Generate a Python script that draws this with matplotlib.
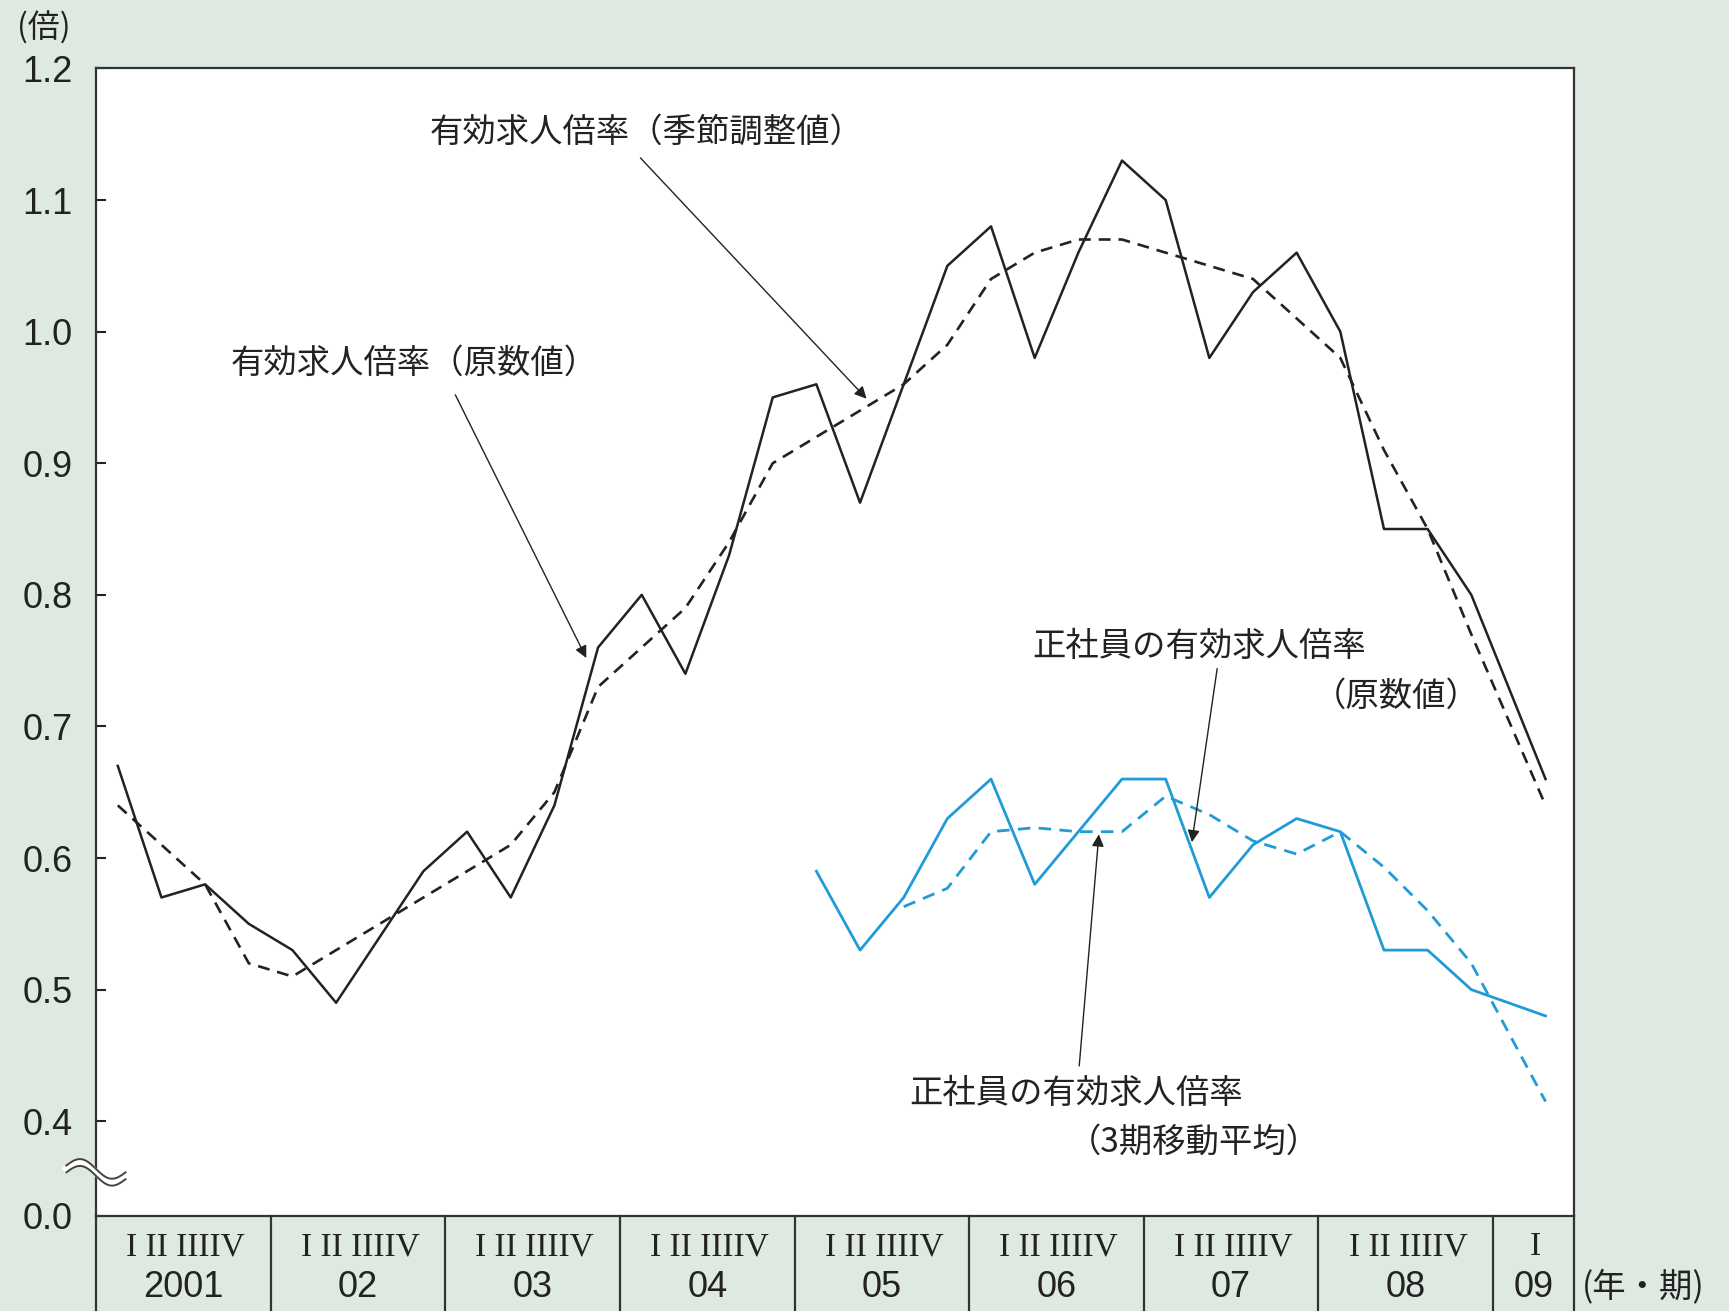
import numpy as np
import matplotlib
matplotlib.use('Agg')
import matplotlib.pyplot as plt

# Quarter positions: 2001 I = 0 ... 2008 IV = 31; 2009 I sits a bit further right, as in the original
quarter_pos = list(range(32)) + [32.7]

# 有効求人倍率（原数値）
ratio_raw = [0.67, 0.57, 0.58, 0.55, 0.53, 0.49, 0.54, 0.59,
             0.62, 0.57, 0.64, 0.76, 0.80, 0.74, 0.83, 0.95,
             0.96, 0.87, 0.96, 1.05, 1.08, 0.98, 1.06, 1.13,
             1.10, 0.98, 1.03, 1.06, 1.00, 0.85, 0.85, 0.80,
             0.66]
# 有効求人倍率（季節調整値）
ratio_sa = [0.64, 0.61, 0.58, 0.52, 0.51, 0.53, 0.55, 0.57,
            0.59, 0.61, 0.65, 0.73, 0.76, 0.79, 0.84, 0.90,
            0.92, 0.94, 0.96, 0.99, 1.04, 1.06, 1.07, 1.07,
            1.06, 1.05, 1.04, 1.01, 0.98, 0.91, 0.85, 0.77,
            0.64]
# 正社員の有効求人倍率（原数値）, from 2005 I
regular_raw = [0.59, 0.53, 0.57, 0.63, 0.66, 0.58, 0.62, 0.66,
               0.66, 0.57, 0.61, 0.63, 0.62, 0.53, 0.53, 0.50,
               0.48]
# 正社員の有効求人倍率（3期移動平均）, from 2005 III
regular_ma3 = [0.563, 0.577, 0.62, 0.623, 0.62, 0.62, 0.647, 0.633,
               0.613, 0.603, 0.62, 0.593, 0.56, 0.52, 0.415]

years = ['2001', '02', '03', '04', '05', '06', '07', '08', '09']
quarter_labels = ['I II IIIIV'] * 8 + ['I']
y_ticks = [0.4, 0.5, 0.6, 0.7, 0.8, 0.9, 1.0, 1.1, 1.2]
y_tick_labels = ['0.4', '0.5', '0.6', '0.7', '0.8', '0.9', '1.0', '1.1', '1.2']
y_floor = 0.328  # broken axis: bottom edge is labelled 0.0

bg = '#dee9e1'
ink = '#222222'
blue = '#1f9bd7'
cjk = 'Noto Sans CJK JP'
plt.rcParams['font.family'] = ['Liberation Sans', 'Noto Sans CJK JP']

fig = plt.figure(figsize=(17.29, 13.11), dpi=100, facecolor=bg)
ax = fig.add_axes([0.0555, 0.0725, 0.8548, 0.8753])
ax.set_facecolor('white')

# Lines
ax.plot(quarter_pos, ratio_raw, color=ink, lw=1.8)
ax.plot(quarter_pos, ratio_sa, color=ink, lw=1.9, linestyle=(0, (4.5, 3)))
ax.plot(quarter_pos[16:], regular_raw, color=blue, lw=2.0)
ax.plot(quarter_pos[18:], regular_ma3, color=blue, lw=2.0, linestyle=(0, (4.5, 3)))

ax.set_xlim(-0.5, 33.35)
ax.set_ylim(y_floor, 1.2)

# Axis styling
ax.set_xticks([])
ax.set_yticks(y_ticks + [y_floor])
ax.set_yticklabels(y_tick_labels + ['0.0'])
ax.tick_params(axis='y', direction='in', length=7, width=1.5, pad=17,
               labelsize=26, colors=ink)
for s in ax.spines.values():
    s.set_linewidth(1.6)
    s.set_color('#333333')

# Category table under the plot: year separators and labels
xtr = ax.get_xaxis_transform()
bounds = [-0.5 + 4 * k for k in range(9)] + [33.35]
for b in bounds:
    ax.plot([b, b], [0, -0.1], transform=xtr, color='#333333', lw=1.6, clip_on=False)
for k, (yr, ql) in enumerate(zip(years, quarter_labels)):
    xc = (bounds[k] + bounds[k + 1]) / 2
    ax.text(xc + 0.05, -0.027, ql, transform=xtr, ha='center', va='center',
            fontsize=24, family='Liberation Serif', color=ink)
    ax.text(xc, -0.062, yr, transform=xtr, ha='center', va='center',
            fontsize=26, color=ink)

# Break mark on the left spine
t = np.linspace(0, 1, 60)
bx = -0.02 + 0.04 * t
by = 0.041 - 0.006 * t + 0.007 * np.sin(2 * np.pi * t)
ax.plot(bx, by, transform=ax.transAxes, color='white', lw=5, clip_on=False, zorder=5)
for off in (-0.003, 0.003):
    ax.plot(bx, by + off, transform=ax.transAxes, color='#444444', lw=1.4,
            clip_on=False, zorder=6)

# Annotations
arrow = dict(arrowstyle='-|>', color=ink, lw=1.0, mutation_scale=18, shrinkA=0, shrinkB=0)
lab = dict(fontsize=24, family=cjk, color=ink, ha='center', va='center')

ax.text(12.1, 1.1515, '有効求人倍率（季節調整値）', **lab)
ax.annotate('', xy=(17.15, 0.949), xytext=(11.97, 1.132), arrowprops=arrow)

ax.text(6.79, 0.976, '有効求人倍率（原数値）', **lab)
ax.annotate('', xy=(10.73, 0.752), xytext=(7.73, 0.952), arrowprops=arrow)

ax.text(24.77, 0.761, '正社員の有効求人倍率', **lab)
ax.text(29.27, 0.723, '（原数値）', **lab)
ax.annotate('', xy=(24.6, 0.612), xytext=(25.18, 0.744), arrowprops=arrow)

ax.text(21.94, 0.421, '正社員の有効求人倍率', **lab)
ax.text(24.65, 0.384, '（3期移動平均）', **lab)
ax.annotate('', xy=(22.47, 0.618), xytext=(22.02, 0.442), arrowprops=arrow)

# Unit labels
fig.text(44 / 1729, 1 - 28 / 1311, '(倍)', fontsize=23, family=cjk, color=ink,
         ha='center', va='center')
fig.text(1582 / 1729, 1 - 1287 / 1311, '(年・期)', fontsize=24, family=cjk, color=ink,
         ha='left', va='center')

fig.savefig('out.png', dpi=100, facecolor=bg)
